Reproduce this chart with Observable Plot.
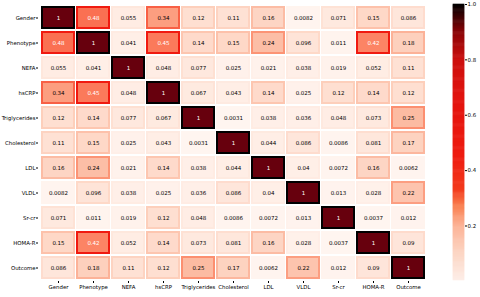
<!DOCTYPE html>
<html>
<head>
<meta charset="utf-8">
<script src="https://cdn.jsdelivr.net/npm/d3@7"></script>
<script src="https://cdn.jsdelivr.net/npm/@observablehq/plot@0.6"></script>
<style>
  html, body { margin: 0; padding: 0; background: #fff; }
  #wrap { position: relative; width: 480px; height: 297px; font-family: "DejaVu Sans", sans-serif; }
  #wrap svg { position: absolute; left: 0; top: 0; }
</style>
</head>
<body>
<div id="wrap"></div>
<script>
const labels = ["Gender", "Phenotype", "NEFA", "hsCRP", "Triglycerides", "Cholesterol", "LDL", "VLDL", "Sr-cr", "HOMA-R", "Outcome"];
const rowGender        = [1, 0.48, 0.055, 0.34, 0.12, 0.11, 0.16, 0.0082, 0.071, 0.15, 0.086];
const rowPhenotype     = [0.48, 1, 0.041, 0.45, 0.14, 0.15, 0.24, 0.096, 0.011, 0.42, 0.18];
const rowNEFA          = [0.055, 0.041, 1, 0.048, 0.077, 0.025, 0.021, 0.038, 0.019, 0.052, 0.11];
const rowHsCRP         = [0.34, 0.45, 0.048, 1, 0.067, 0.043, 0.14, 0.025, 0.12, 0.14, 0.12];
const rowTriglycerides = [0.12, 0.14, 0.077, 0.067, 1, 0.0031, 0.038, 0.036, 0.048, 0.073, 0.25];
const rowCholesterol   = [0.11, 0.15, 0.025, 0.043, 0.0031, 1, 0.044, 0.086, 0.0086, 0.081, 0.17];
const rowLDL           = [0.16, 0.24, 0.021, 0.14, 0.038, 0.044, 1, 0.04, 0.0072, 0.16, 0.0062];
const rowVLDL          = [0.0082, 0.096, 0.038, 0.025, 0.036, 0.086, 0.04, 1, 0.013, 0.028, 0.22];
const rowSrcr          = [0.071, 0.011, 0.019, 0.12, 0.048, 0.0086, 0.0072, 0.013, 1, 0.0037, 0.012];
const rowHOMAR         = [0.15, 0.42, 0.052, 0.14, 0.073, 0.081, 0.16, 0.028, 0.0037, 1, 0.09];
const rowOutcome       = [0.086, 0.18, 0.11, 0.12, 0.25, 0.17, 0.0062, 0.22, 0.012, 0.09, 1];
const colorbarTicks = [0.2, 0.4, 0.6, 0.8, 1.0];

const matrix = [rowGender, rowPhenotype, rowNEFA, rowHsCRP, rowTriglycerides, rowCholesterol, rowLDL, rowVLDL, rowSrcr, rowHOMAR, rowOutcome];
const vmin = d3.min(matrix.flat()), vmax = 1;
const cells = labels.flatMap((r, i) => labels.map((c, j) => ({row: r, col: c, v: matrix[i][j]})));
const norm = v => (v - vmin) / (vmax - vmin);
const reds = d3.interpolateReds;
const edge = v => {
  const t = norm(v);
  if (t > 0.98) return "#000";
  if (t > 0.38) return "#f01a10";
  return reds(Math.min(1, t * 1.55));
};
const barColor = d3.scaleLinear()
  .domain([0, 0.1, 0.2, 0.27, 0.33, 0.45, 0.65, 0.8, 0.9, 1])
  .range(["#fdeee8", "#fcd5c3", "#fcb295", "#f98050", "#f23a1c", "#ee1c10", "#e3140e", "#cc100e", "#8a0508", "#000"])
  .interpolate(d3.interpolateRgb);
const fmt = d3.format(".2~g");

const main = Plot.plot({
  width: 480, height: 297,
  marginLeft: 38, marginRight: 53, marginTop: 4, marginBottom: 16,
  style: {fontFamily: "DejaVu Sans", fontSize: "5.4px", background: "transparent"},
  x: {domain: labels, padding: 0.04, label: null, tickSize: 2, tickPadding: 2},
  y: {domain: labels, padding: 0.07, label: null, tickSize: 2, tickPadding: 1},
  color: {type: "linear", domain: [vmin, vmax], scheme: "reds"},
  marks: [
    Plot.cell(cells, {x: "col", y: "row", fill: "v"}),
    Plot.cell(cells, {x: "col", y: "row", fill: "none", stroke: {value: d => edge(d.v), scale: null}, strokeWidth: 2, inset: 1}),
    Plot.text(cells, {x: "col", y: "row", text: d => fmt(d.v), fill: d => norm(d.v) > 0.4 ? "white" : "black", fontSize: 5.5})
  ]
});

const steps = d3.range(0, 300).map(i => ({
  y1: vmin + (vmax - vmin) * i / 300,
  y2: vmin + (vmax - vmin) * (i + 1) / 300,
  t: (i + 0.5) / 300
}));

const bar = Plot.plot({
  width: 480, height: 297,
  marginLeft: 453, marginRight: 16, marginTop: 4, marginBottom: 17,
  style: {fontFamily: "DejaVu Sans", fontSize: "5.4px", background: "transparent"},
  x: {domain: [0, 1], axis: null},
  y: {domain: [vmin, vmax], axis: "right", ticks: colorbarTicks, tickFormat: ".1f", tickSize: 2, tickPadding: 1, label: null},
  marks: [
    Plot.rect(steps, {x1: 0, x2: 1, y1: "y1", y2: "y2", fill: {value: d => barColor(d.t), scale: null}, inset: -0.3})
  ]
});

const wrap = document.getElementById("wrap");
wrap.appendChild(main);
wrap.appendChild(bar);
</script>
</body>
</html>
